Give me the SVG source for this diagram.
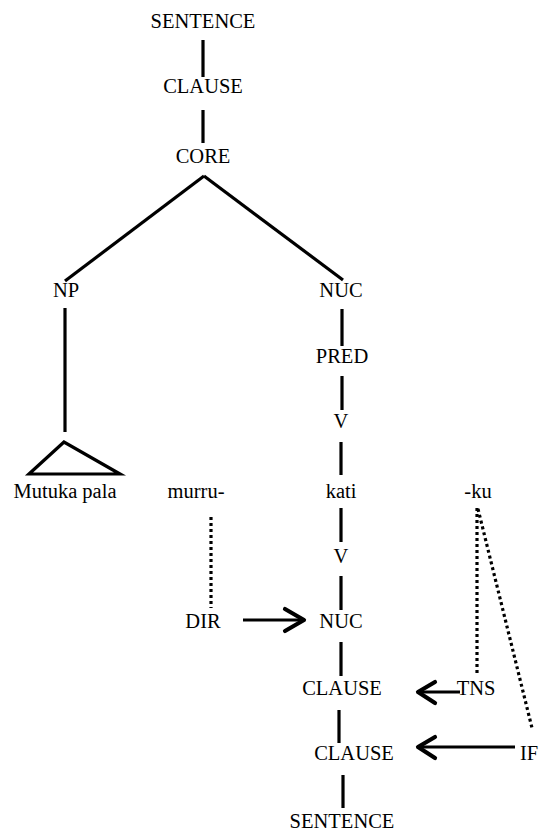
<svg xmlns="http://www.w3.org/2000/svg" width="544" height="834" viewBox="0 0 544 834">
<style>
text{font-family:'Liberation Serif','DejaVu Serif',serif;font-size:20.5px;fill:#000;text-anchor:middle}
.s{stroke:#000;stroke-width:3.2;fill:none}
.d{stroke:#000;stroke-width:3.2;fill:none;stroke-dasharray:3 3}
.a{stroke:#000;stroke-width:4.2;fill:none;stroke-linecap:round;stroke-linejoin:round}
</style>
<rect width="544" height="834" fill="#fff"/>
<g id="connectors">
<line class="s" x1="203" y1="40" x2="203" y2="77"/>
<line class="s" x1="203" y1="110" x2="203" y2="143"/>
<line class="s" x1="204" y1="176" x2="65" y2="281"/>
<line class="s" x1="204" y1="176" x2="343" y2="280"/>
<line class="s" x1="65" y1="308" x2="65" y2="432"/>
<polygon class="s" points="64,442 29,474 120,474"/>
<line class="s" x1="342" y1="309" x2="342" y2="346"/>
<line class="s" x1="342" y1="376" x2="342" y2="410"/>
<line class="s" x1="341" y1="442" x2="341" y2="475"/>
<line class="s" x1="341" y1="508" x2="341" y2="542"/>
<line class="s" x1="341" y1="576" x2="341" y2="610"/>
<line class="s" x1="341" y1="642" x2="341" y2="676"/>
<line class="s" x1="339" y1="710" x2="339" y2="743"/>
<line class="s" x1="343" y1="775" x2="343" y2="808"/>
<line class="d" x1="211" y1="517" x2="211" y2="608"/>
<line class="d" x1="477" y1="508" x2="477" y2="674"/>
<line class="d" x1="478" y1="509" x2="532" y2="728"/>
<line class="s" x1="243" y1="620" x2="302" y2="620"/>
<polyline class="a" points="285,609 304,620 285,631"/>
<line class="s" x1="420" y1="692" x2="460" y2="692"/>
<polyline class="a" points="435,682 418,692 435,703"/>
<line class="s" x1="420" y1="747" x2="515" y2="747"/>
<polyline class="a" points="435,737 418,747 435,758"/>
</g>
<g id="n1"><text x="203" y="28">SENTENCE</text></g>
<g id="n2"><text x="203" y="93">CLAUSE</text></g>
<g id="n3"><text x="203" y="163">CORE</text></g>
<g id="n4"><text x="66" y="297">NP</text></g>
<g id="n5"><text x="341" y="297">NUC</text></g>
<g id="n6"><text x="342" y="363">PRED</text></g>
<g id="n7"><text x="341" y="428">V</text></g>
<g id="n8"><text x="65" y="498">Mutuka pala</text></g>
<g id="n9"><text x="196" y="498">murru-</text></g>
<g id="n10"><text x="341" y="498">kati</text></g>
<g id="n11"><text x="478" y="498">-ku</text></g>
<g id="n12"><text x="341" y="563">V</text></g>
<g id="n13"><text x="203" y="628">DIR</text></g>
<g id="n14"><text x="341" y="628">NUC</text></g>
<g id="n15"><text x="342" y="695">CLAUSE</text></g>
<g id="n16"><text x="476" y="695">TNS</text></g>
<g id="n17"><text x="354" y="760">CLAUSE</text></g>
<g id="n18"><text x="529" y="760">IF</text></g>
<g id="n19"><text x="342" y="828">SENTENCE</text></g>
</svg>
